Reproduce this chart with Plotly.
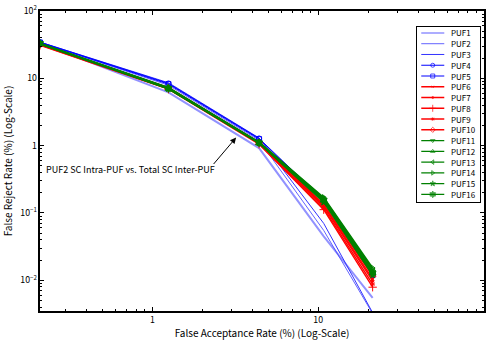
import math
import plotly.graph_objects as go

# ---------------- data ----------------
far = [0.21, 1.25, 4.4, 10.8, 21.3]  # False Acceptance Rate (%)
names = [f"PUF{i}" for i in range(1, 17)]

puf1 = [33.5, 6.2, 0.92, 0.045, 0.0055]
puf2 = [34.0, 7.9, 1.20, 0.055, 0.0032]
puf3 = [34.5, 8.6, 1.30, 0.070, 0.0033]
puf4 = [34.5, 8.4, 1.28, 0.155, 0.0125]
puf5 = [34.0, 8.2, 1.25, 0.150, 0.0120]
puf6 = [32.0, 7.3, 1.12, 0.130, 0.0105]
puf7 = [31.5, 7.1, 1.09, 0.125, 0.0098]
puf8 = [31.0, 6.9, 1.05, 0.112, 0.0079]
puf9 = [31.5, 7.0, 1.07, 0.118, 0.0088]
puf10 = [32.0, 7.2, 1.10, 0.135, 0.0115]
puf11 = [32.5, 7.0, 1.10, 0.150, 0.0125]
puf12 = [33.0, 7.2, 1.12, 0.165, 0.0145]
puf13 = [32.5, 7.1, 1.11, 0.160, 0.0135]
puf14 = [33.0, 7.3, 1.13, 0.170, 0.0152]
puf15 = [32.5, 7.0, 1.09, 0.145, 0.0120]
puf16 = [33.0, 7.1, 1.10, 0.155, 0.0128]
frr = [puf1, puf2, puf3, puf4, puf5, puf6, puf7, puf8, puf9, puf10,
       puf11, puf12, puf13, puf14, puf15, puf16]

annotation_text = "PUF2 SC Intra-PUF vs. Total SC Inter-PUF"
x_title = "False Acceptance Rate (%) (Log-Scale)"
y_title = "False Reject Rate (%) (Log-Scale)"

# ---------------- styles ----------------
BLUE = "#0000ff"
RED = "#ff0000"
GREEN = "#008000"
styles = [
    dict(color="rgba(110,110,255,0.75)", width=2.0, symbol=None, size=0),
    dict(color="rgba(70,70,255,0.85)", width=1.0, symbol=None, size=0),
    dict(color="#3333ff", width=1.0, symbol=None, size=0),
    dict(color=BLUE, width=1.0, symbol="circle-open", size=5),
    dict(color=BLUE, width=1.0, symbol="square-open", size=5),
    dict(color=RED, width=1.4, symbol="x-thin-open", size=3),
    dict(color=RED, width=1.4, symbol="circle", size=2.5),
    dict(color=RED, width=1.4, symbol="cross-thin-open", size=6),
    dict(color=RED, width=1.4, symbol="asterisk-open", size=4),
    dict(color=RED, width=1.4, symbol="diamond-open", size=5),
    dict(color=GREEN, width=1.6, symbol="triangle-down-open", size=5),
    dict(color=GREEN, width=1.6, symbol="triangle-up-open", size=5),
    dict(color=GREEN, width=1.6, symbol="triangle-left-open", size=5),
    dict(color=GREEN, width=1.6, symbol="triangle-right-open", size=5),
    dict(color=GREEN, width=1.6, symbol="star", size=5),
    dict(color=GREEN, width=1.6, symbol="hexagram", size=6),
]

FONT = "Noto Sans CJK JP"

fig = go.Figure()
for name, ys, st in zip(names, frr, styles):
    mode = "lines" if st["symbol"] is None else "lines+markers"
    marker = dict(color=st["color"], size=st["size"],
                  symbol=st["symbol"] or "circle",
                  line=dict(color=st["color"], width=1))
    fig.add_trace(go.Scatter(x=far, y=ys, name=name, mode=mode,
                             line=dict(color=st["color"], width=st["width"]),
                             marker=marker, showlegend=False,
                             xaxis="x", yaxis="y"))

# ---------------- custom legend in an inset axis ----------------
for i, (name, st) in enumerate(zip(names, styles)):
    mode = "lines" if st["symbol"] is None else "lines+markers"
    fig.add_trace(go.Scatter(
        x=[0.063, 0.246, 0.43], y=[i, i, i], mode=mode, showlegend=False,
        hoverinfo="skip",
        line=dict(color=st["color"], width=min(st["width"], 1.4)),
        marker=dict(color=st["color"], size=[0, max(st["size"] - 1, 2), 0],
                    symbol=st["symbol"] or "circle",
                    line=dict(color=st["color"], width=1)),
        xaxis="x2", yaxis="y2"))
    fig.add_annotation(x=0.5, y=i, xref="x2", yref="y2", text=name,
                       showarrow=False, xanchor="left", yanchor="middle",
                       font=dict(family=FONT, size=8, color="black"))

# ---------------- arrow annotation ----------------
fig.add_annotation(x=math.log10(3.2), y=math.log10(1.32),
                   ax=math.log10(2.3), ay=math.log10(0.507),
                   xref="x", yref="y", axref="x", ayref="y",
                   text="", showarrow=True, arrowhead=2, arrowsize=1.2,
                   arrowwidth=1, arrowcolor="black")
fig.add_annotation(x=math.log10(0.222), y=math.log10(0.443),
                   xref="x", yref="y", text=annotation_text,
                   showarrow=False, xanchor="left", yanchor="middle",
                   font=dict(family=FONT, size=9, color="black"))

axis_common = dict(
    type="log", showgrid=False, zeroline=False,
    showline=True, linecolor="black", linewidth=1.5, mirror="ticks",
    ticks="inside", ticklen=4, tickwidth=1, tickcolor="black",
    exponentformat="power", dtick=1,
    minor=dict(ticks="inside", ticklen=2, tickwidth=0.8, tickcolor="black",
               showgrid=False),
    tickfont=dict(family=FONT, size=7, color="black"),
)

fig.update_layout(
    width=489, height=340,
    margin=dict(l=40, r=3, t=11, b=28),
    paper_bgcolor="white", plot_bgcolor="white",
    font=dict(family=FONT, size=9, color="black"),
    xaxis=dict(range=[math.log10(0.21), 2],
               title=dict(text=x_title, standoff=4,
                          font=dict(family=FONT, size=10)),
               **axis_common),
    yaxis=dict(range=[math.log10(0.0035), 2],
               title=dict(text=y_title, standoff=6,
                          font=dict(family=FONT, size=10)),
               **axis_common),
    xaxis2=dict(domain=[0.8498, 0.991], range=[0, 1], anchor="y2",
                showgrid=False, zeroline=False, showticklabels=False,
                ticks="", showline=True, mirror=True, linecolor="black",
                linewidth=1, fixedrange=True),
    yaxis2=dict(domain=[0.3621, 0.9468], range=[15.74, -0.556], anchor="x2",
                showgrid=False, zeroline=False, showticklabels=False,
                ticks="", showline=True, mirror=True, linecolor="black",
                linewidth=1, fixedrange=True),
    showlegend=False,
)

fig.write_html("out.html")
